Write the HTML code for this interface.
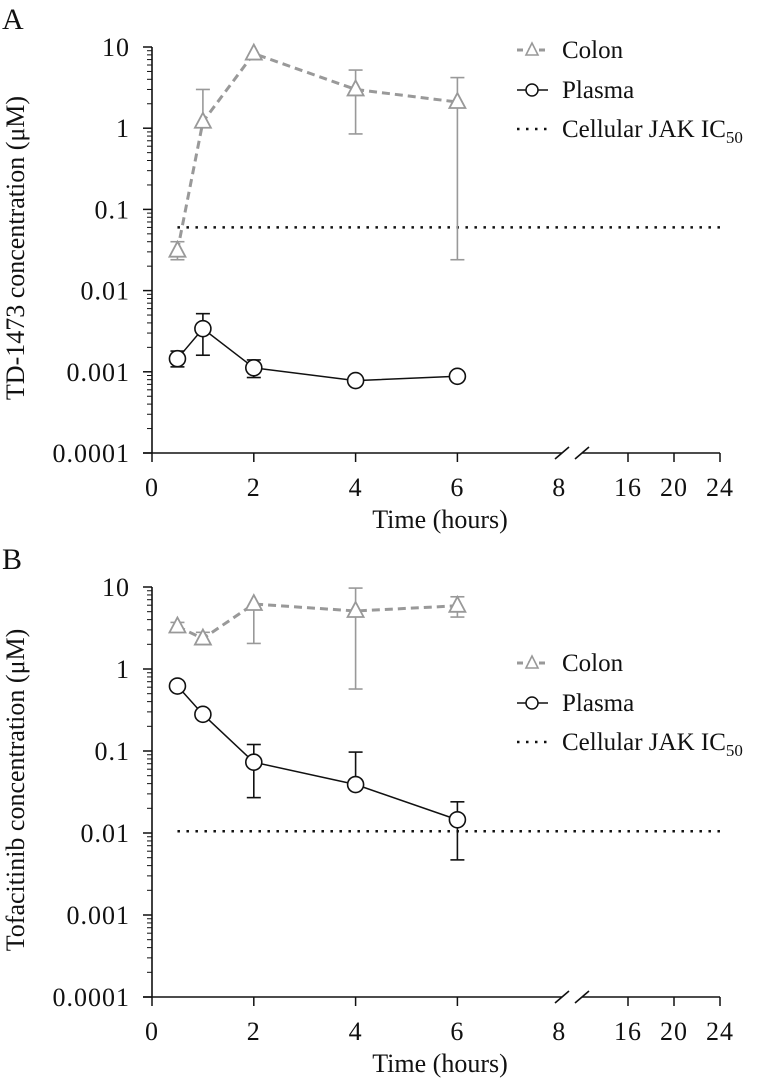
<!DOCTYPE html>
<html><head><meta charset="utf-8"><style>
html,body{margin:0;padding:0;background:#fff}
svg{display:block}
text{font-family:"Liberation Serif",serif;fill:#111}
</style></head><body>
<svg id="fig" width="776" height="1078" viewBox="0 0 776 1078" xmlns="http://www.w3.org/2000/svg"></svg>
<script>
// Shared
const times = [0.5, 1, 2, 4, 6];
const yTickLabels = ["10","1","0.1","0.01","0.001","0.0001"];
const yTickValues = [10,1,0.1,0.01,0.001,0.0001];
const xTickValues = [0,2,4,6,8,16,20,24];
const xTickLabels = ["0","2","4","6","8","16","20","24"];
// Panel A (TD-1473)
const colonA = [0.031, 1.2, 8.3, 3.0, 2.1];
const colonALo = [0.024, null, null, 0.85, 0.024];
const colonAHi = [0.040, 3.0, null, 5.2, 4.2];
const plasmaA = [0.00145, 0.0034, 0.00112, 0.00078, 0.00088];
const plasmaALo = [0.00115, 0.0016, 0.00085, null, null];
const plasmaAHi = [0.0018, 0.0052, 0.0014, null, null];
const ic50A = 0.06;
// Panel B (Tofacitinib)
const colonB = [3.3, 2.35, 6.2, 5.1, 5.9];
const colonBLo = [3.0, 2.0, 2.05, 0.57, 4.3];
const colonBHi = [3.7, 2.8, null, 9.7, 7.6];
const plasmaB = [0.62, 0.28, 0.073, 0.039, 0.0145];
const plasmaBLo = [null, null, 0.027, null, 0.0047];
const plasmaBHi = [null, null, 0.12, 0.097, 0.024];
const ic50B = 0.0105;

const NS="http://www.w3.org/2000/svg";
const svg=document.getElementById('fig');
function mk(tag,attrs,parent,txt){const e=document.createElementNS(NS,tag);for(const k in attrs)e.setAttribute(k,attrs[k]);if(txt!==undefined)e.textContent=txt;(parent||svg).appendChild(e);return e;}
function xScale(h){ if(h<=8) return 152+h*50.9; return 628+(h-16)*11.5; }

function panel(cfg){
  const top=cfg.top, bot=cfg.bot;
  const dec=(bot-top)/5;
  const yS=v=>top+(1-Math.log10(v))*dec;
  const g=mk('g',{});
  
  
  const pl=mk('text',{x:2,y:top-18,'font-size':30},g,cfg.letter);
  
  
  // y axis
  const ya=mk('g',{},g);
  
  
  mk('line',{x1:152,y1:top,x2:152,y2:bot,stroke:'#111','stroke-width':1.6},ya);
  for(let i=0;i<yTickValues.length;i++){
    const y=yS(yTickValues[i]);
    mk('line',{x1:143,y1:y,x2:152,y2:y,stroke:'#111','stroke-width':1.5},ya);
    const t=mk('text',{x:130,y:y+9,'font-size':26,'text-anchor':'end','letter-spacing':1},ya,yTickLabels[i]);
    
    
    if(i<yTickValues.length-1){
      for(let m=2;m<=9;m++){
        const ym=yS(yTickValues[i+1]*m);
        mk('line',{x1:147,y1:ym,x2:152,y2:ym,stroke:'#111','stroke-width':1},ya);
      }
    }
  }
  const yt=mk('text',{x:0,y:0,'font-size':26,'text-anchor':'middle',transform:`translate(24,${(top+bot)/2-2}) rotate(-90)`},g,cfg.ytitle);
  
  
  // x axis
  const xa=mk('g',{},g);
  
  
  mk('line',{x1:143,y1:bot,x2:562,y2:bot,stroke:'#111','stroke-width':1.6},xa);
  mk('line',{x1:582,y1:bot,x2:720,y2:bot,stroke:'#111','stroke-width':1.6},xa);
  mk('line',{x1:555,y1:bot+6,x2:569,y2:bot-6,stroke:'#111','stroke-width':1.6},xa);
  mk('line',{x1:575,y1:bot+6,x2:589,y2:bot-6,stroke:'#111','stroke-width':1.6},xa);
  for(let i=0;i<xTickValues.length;i++){
    const x=xScale(xTickValues[i]);
    if(xTickValues[i]!==8) mk('line',{x1:x,y1:bot,x2:x,y2:bot+9,stroke:'#111','stroke-width':1.5},xa);
    const t=mk('text',{x:x,y:bot+43,'font-size':26,'text-anchor':'middle','letter-spacing':1},xa,xTickLabels[i]);
    
    
  }
  const xt=mk('text',{x:440,y:bot+75,'font-size':26,'text-anchor':'middle'},g,'Time (hours)');
  
  
  // IC50
  const ic=mk('line',{x1:xScale(0.5),y1:yS(cfg.ic),x2:xScale(24),y2:yS(cfg.ic),stroke:'#111','stroke-width':2.5,'stroke-dasharray':'2.5,6.5'},g);
  
  
  function series(vals,lo,hi,color,dash,width,marker,name){
    const sg=mk('g',{},g);
    
    
    for(let i=0;i<times.length;i++){
      const x=xScale(times[i]);
      const yc=yS(vals[i]);
      if(hi[i]!==null){mk('line',{x1:x,y1:yc,x2:x,y2:yS(hi[i]),stroke:color,'stroke-width':1.6},sg);mk('line',{x1:x-7,y1:yS(hi[i]),x2:x+7,y2:yS(hi[i]),stroke:color,'stroke-width':1.6},sg);}
      if(lo[i]!==null){mk('line',{x1:x,y1:yc,x2:x,y2:yS(lo[i]),stroke:color,'stroke-width':1.6},sg);mk('line',{x1:x-7,y1:yS(lo[i]),x2:x+7,y2:yS(lo[i]),stroke:color,'stroke-width':1.6},sg);}
    }
    const pts=times.map((t,i)=>xScale(t)+','+yS(vals[i])).join(' ');
    const ln=mk('polyline',{points:pts,fill:'none',stroke:color,'stroke-width':width,'stroke-dasharray':dash},sg);
    
    
    for(let i=0;i<times.length;i++){
      const x=xScale(times[i]), y=yS(vals[i]);
      let m;
      if(marker==='tri') m=mk('polygon',{points:`${x},${y-9} ${x-8},${y+6} ${x+8},${y+6}`,fill:'#fff',stroke:color,'stroke-width':1.8},sg);
      else m=mk('circle',{cx:x,cy:y,r:8,fill:'#fff',stroke:color,'stroke-width':1.6},sg);
      
      
    }
  }
  series(cfg.cv,cfg.clo,cfg.chi,'#999','8,5',3,'tri','colon-series');
  series(cfg.pv,cfg.plo,cfg.phi,'#111','none',1.5,'circ','plasma-series');
  // legend
  const lg=mk('g',{},g);
  
  
  const ly=cfg.legY;
  mk('line',{x1:517,y1:ly,x2:548,y2:ly,stroke:'#999','stroke-width':3,'stroke-dasharray':'6,5'},lg);
  mk('polygon',{points:`532,${ly-7} 526,${ly+5} 538,${ly+5}`,fill:'#fff',stroke:'#999','stroke-width':1.6},lg);
  mk('line',{x1:517,y1:ly+40,x2:548,y2:ly+40,stroke:'#111','stroke-width':1.5},lg);
  mk('circle',{cx:532,cy:ly+40,r:6,fill:'#fff',stroke:'#111','stroke-width':1.5},lg);
  mk('line',{x1:517,y1:ly+79,x2:548,y2:ly+79,stroke:'#111','stroke-width':2.5,'stroke-dasharray':'2.5,6.5'},lg);
  const t1=mk('text',{x:562,y:ly+8,'font-size':25},lg,'Colon');
  
  
  const t2=mk('text',{x:562,y:ly+48,'font-size':25},lg,'Plasma');
  
  
  const t3=mk('text',{x:562,y:ly+87,'font-size':25},lg,'Cellular JAK IC');
  
  
  mk('tspan',{'font-size':17,dy:6},t3,'50');
}
panel({name:'panel-a',letter:'A',top:47,bot:453,ytitle:'TD-1473 concentration (μM)',ic:ic50A,cv:colonA,clo:colonALo,chi:colonAHi,pv:plasmaA,plo:plasmaALo,phi:plasmaAHi,legY:50});
panel({name:'panel-b',letter:'B',top:587,bot:997,ytitle:'Tofacitinib concentration (μM)',ic:ic50B,cv:colonB,clo:colonBLo,chi:colonBHi,pv:plasmaB,plo:plasmaBLo,phi:plasmaBHi,legY:663});
</script>
</body></html>
